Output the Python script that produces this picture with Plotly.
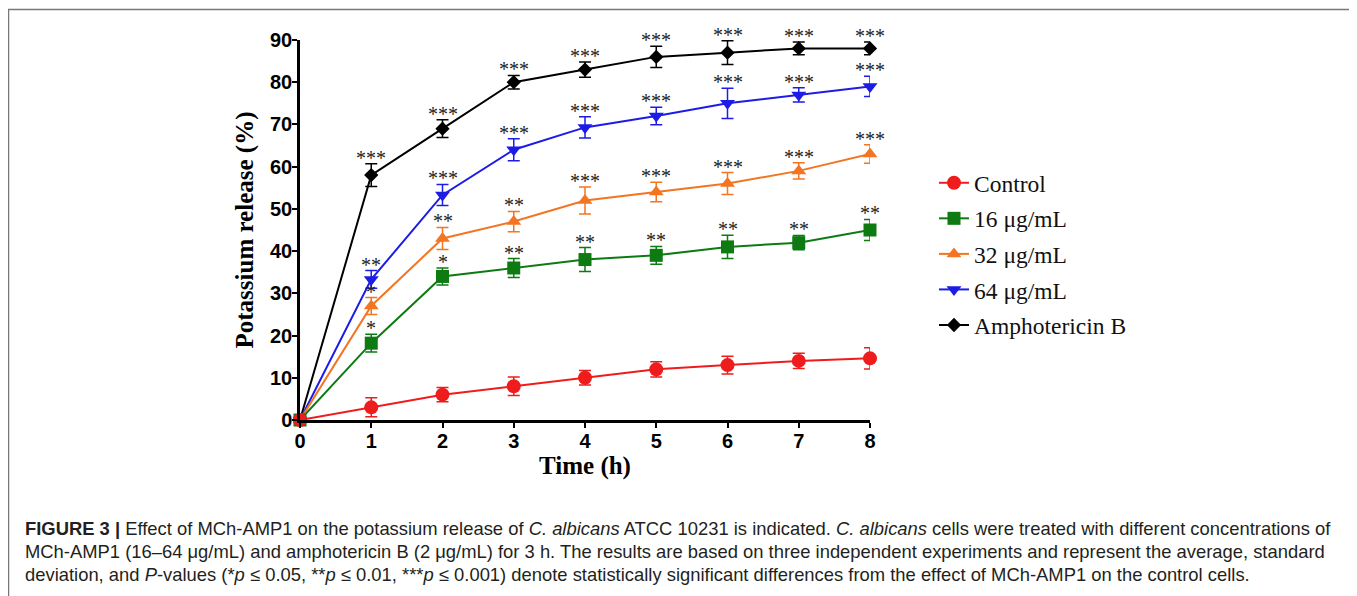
import plotly.graph_objects as go

time_h = [0, 1, 2, 3, 4, 5, 6, 7, 8]

series_names = ["Control", "16 μg/mL", "32 μg/mL", "64 μg/mL", "Amphotericin B"]

control = [0, 3, 6, 8, 10, 12, 13, 14, 14.6]
control_sd = [1.5, 2.25, 1.7, 2.2, 1.7, 1.8, 2.1, 1.8, 2.5]

ug16 = [0, 18.2, 34, 36, 38, 39, 41, 42, 45]
ug16_sd = [1.5, 2.1, 2.0, 2.25, 2.85, 2.1, 2.75, 1.7, 2.5]

ug32 = [0, 27, 43, 47, 52, 54, 56, 59, 63]
ug32_sd = [1.5, 2.0, 2.6, 2.4, 3.2, 2.3, 2.6, 1.9, 2.2]

ug64 = [0, 33.3, 53.3, 64, 69.3, 72, 75, 77, 79]
ug64_sd = [1.5, 2.1, 2.5, 2.6, 2.5, 2.1, 3.6, 1.7, 2.4]

ampho = [0, 58, 69, 80, 83, 86, 87, 88, 88]
ampho_sd = [1.5, 2.7, 2.1, 1.6, 1.8, 2.5, 2.8, 1.5, 1.5]

ug16_sig = ["", "*", "*", "**", "**", "**", "**", "**", "**"]
ug32_sig = ["", "*", "**", "**", "***", "***", "***", "***", "***"]
ug64_sig = ["", "**", "***", "***", "***", "***", "***", "***", "***"]
ampho_sig = ["", "***", "***", "***", "***", "***", "***", "***", "***"]

colors = ["#ee1c1c", "#0d7a12", "#f37521", "#1c1ce6", "#000000"]
symbols = ["circle", "square", "triangle-up", "triangle-down", "diamond"]
sizes = [14, 13, 13, 13, 11]

values = [control, ug16, ug32, ug64, ampho]
sds = [control_sd, ug16_sd, ug32_sd, ug64_sd, ampho_sd]
sigs = [None, ug16_sig, ug32_sig, ug64_sig, ampho_sig]

# page offset: the html body has an 8px margin
OFF = 8
PL, PR, PT, PB = 300 - OFF, 870 - OFF, 40 - OFF, 420 - OFF
W, H = 1357, 596

fig = go.Figure()

# draw Amphotericin first so that Control ends up on top
for i in reversed(range(5)):
    fig.add_trace(go.Scatter(
        x=time_h, y=values[i], name=series_names[i],
        mode="lines+markers",
        line=dict(color=colors[i], width=2),
        marker=dict(symbol=symbols[i], size=sizes[i], color=colors[i]),
        error_y=dict(type="data", array=sds[i], visible=True,
                     color=colors[i], thickness=1.5, width=6),
        legendgroup=series_names[i], legendrank=i + 1,
        cliponaxis=False,
    ))

# significance asterisks
for i in range(1, 5):
    for x, v, s, t in zip(time_h, values[i], sds[i], sigs[i]):
        if t:
            fig.add_annotation(
                x=x, y=v + s, text=t, showarrow=False,
                xanchor="center", yanchor="bottom", yshift=-7,
                font=dict(family="Liberation Serif", size=20, color="#222222"),
            )

def px2xp(px):
    return (px - OFF - PL) / (PR - PL)

def py2yp(py):
    return (PB - (py - OFF)) / (PB - PT)

caption = [
    "<b>FIGURE 3 |</b> Effect of MCh-AMP1 on the potassium release of <i>C. albicans</i> ATCC 10231 is indicated. <i>C. albicans</i> cells were treated with different concentrations of",
    "MCh-AMP1 (16–64 μg/mL) and amphotericin B (2 μg/mL) for 3 h. The results are based on three independent experiments and represent the average, standard",
    "deviation, and <i>P</i>-values (*<i>p</i> ≤ 0.05, **<i>p</i> ≤ 0.01, ***<i>p</i> ≤ 0.001) denote statistically significant differences from the effect of MCh-AMP1 on the control cells.",
]
for k, line in enumerate(caption):
    fig.add_annotation(
        xref="paper", yref="paper", x=px2xp(23), y=py2yp(528 + 23 * k),
        text=line, showarrow=False, xanchor="left", yanchor="middle",
        font=dict(family="Liberation Sans", size=18.4, color="#231f20"),
    )

# figure frame
fig.add_shape(type="rect", xref="paper", yref="paper",
              x0=px2xp(8.5), x1=px2xp(1355), y0=py2yp(640), y1=py2yp(9.5),
              line=dict(color="#777777", width=1.5), layer="below")

fig.update_layout(
    width=W, height=H,
    margin=dict(l=PL, r=W - PR, t=PT, b=H - PB),
    paper_bgcolor="white", plot_bgcolor="white",
    showlegend=True,
    legend=dict(
        x=px2xp(934), y=py2yp(161), xanchor="left", yanchor="top",
        font=dict(family="Liberation Serif", size=23.5, color="#111111"),
        traceorder="grouped", tracegroupgap=2,
        bgcolor="rgba(0,0,0,0)",
    ),
    xaxis=dict(
        range=[0, 8], tickvals=time_h, ticktext=[str(t) for t in time_h],
        showline=True, linecolor="black", linewidth=2.5,
        ticks="outside", ticklen=5, tickwidth=2, tickcolor="black",
        showgrid=False, zeroline=False, ticklabelstandoff=-4,
        tickfont=dict(family="Liberation Sans", size=20, color="black", weight="bold"),
        title=dict(text="<b>Time (h)</b>", standoff=6,
                   font=dict(family="Liberation Serif", size=25, color="black")),
    ),
    yaxis=dict(
        range=[0, 90], tickvals=[0, 10, 20, 30, 40, 50, 60, 70, 80, 90],
        showline=True, linecolor="black", linewidth=2.5,
        ticks="outside", ticklen=5, tickwidth=2, tickcolor="black",
        showgrid=False, zeroline=False, ticklabelstandoff=-4,
        tickfont=dict(family="Liberation Sans", size=20, color="black", weight="bold"),
        title=dict(text="<b>Potassium release (%)</b>", standoff=10,
                   font=dict(family="Liberation Serif", size=25, color="black")),
    ),
)

fig.write_html("out.html")
